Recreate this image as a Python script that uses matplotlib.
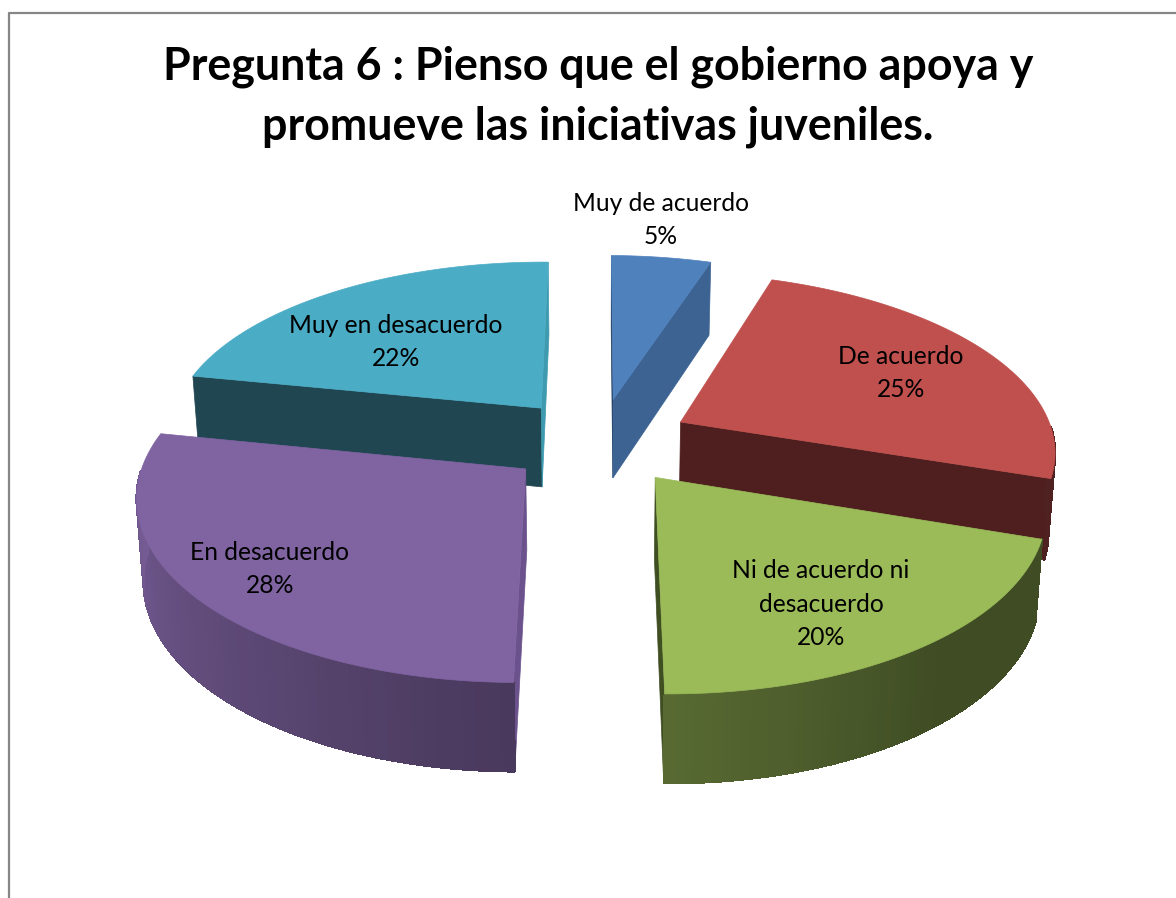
import numpy as np
import matplotlib
matplotlib.use("Agg")
import matplotlib.pyplot as plt
from matplotlib.collections import PolyCollection
from matplotlib.colors import to_rgb

plt.rcParams['font.family'] = ['Lato', 'DejaVu Sans']

title = "Pregunta 6 : Pienso que el gobierno apoya y\npromueve las iniciativas juveniles."
categories = ["Muy de acuerdo", "De acuerdo", "Ni de acuerdo ni\ndesacuerdo", "En desacuerdo", "Muy en desacuerdo"]
values = [5, 25, 20, 28, 22]

top_colors = ["#4f81bd", "#c0504d", "#9bbb59", "#8064a2", "#4bacc6"]
start_wall_colors = ["#1f3a5c", "#4e1f1e", "#3f4f22", "#6b528c", "#1f4651"]
end_wall_colors = ["#3c6392", "#4e1f1e", "#3f4f22", "#6b528c", "#3d9aaf"]
label_pos = [(661, 220), (901, 373), (821, 604), (270, 569), (396, 342)]
draw_order = [0, 4, 1, 3, 2]

# projection of the pie plane to pixels
cx, cy = 599, 441
rad_x, rad_y = 375, 175
persp = 0.14
roll = 0.005
explode = 0.248
depth = 80
base_shrink = 0.985


def project(u, v):
	s = 1 / (1 + persp * v)
	x = cx + rad_x * u * s
	return x, cy - rad_y * v * s + roll * (x - cx)


def project_base(u, v):
	x, y = project(u, v)
	s = 1 / (1 + persp * v)
	return cx + (x - cx) * base_shrink, y + depth * s**0.6


def wall_visible(poly):
	x, y = np.array(poly).T
	return np.sum(x * np.roll(y, -1) - np.roll(x, -1) * y) > 0


def shade(color, angle):
	f = np.interp(angle, [90, 140, 180, 270], [0.41, 0.41, 0.57, 0.92])
	return tuple(c * f for c in to_rgb(color))


fig = plt.figure(figsize=(11.76, 8.98), dpi=100)
ax = fig.add_axes([0, 0, 1, 1])
ax.set_xlim(0, 1176)
ax.set_ylim(898, 0)
ax.axis("off")

ax.plot([9, 9, 1176], [898, 13, 13], color="#868686", lw=1.6, solid_capstyle="butt")

edges = np.cumsum([0] + values) / sum(values) * 360

for i in draw_order:
	a0, a1 = edges[i], edges[i + 1]
	mid = np.radians((a0 + a1) / 2)
	ou, ov = explode * np.sin(mid), explode * np.cos(mid)
	angles = np.linspace(a0, a1, 60)
	u = ou + np.sin(np.radians(angles))
	v = ov + np.cos(np.radians(angles))

	apex = project(ou, ov)
	apex_b = project_base(ou, ov)
	start, end = project(u[0], v[0]), project(u[-1], v[-1])
	start_b, end_b = project_base(u[0], v[0]), project_base(u[-1], v[-1])

	wall0 = [start, apex, apex_b, start_b]
	wall1 = [apex, end, end_b, apex_b]
	if wall_visible(wall0):
		ax.fill(*zip(*wall0), color=start_wall_colors[i], lw=0.5, zorder=2 + draw_order.index(i))
	if wall_visible(wall1):
		ax.fill(*zip(*wall1), color=end_wall_colors[i], lw=0.5, zorder=2 + draw_order.index(i))

	# outer wall, only the part that faces the front
	front = np.where((angles >= 90) & (angles <= 270))[0]
	if len(front) > 1:
		polys, cols = [], []
		for j, k in zip(front[:-1], front[1:]):
			polys.append([project(u[j], v[j]), project(u[k], v[k]), project_base(u[k], v[k]), project_base(u[j], v[j])])
			cols.append(shade(top_colors[i], angles[j]))
		ax.add_collection(PolyCollection(polys, facecolors=cols, edgecolors=cols, linewidths=1, antialiaseds=False, zorder=2 + draw_order.index(i)))

	top = [apex] + [project(a, b) for a, b in zip(u, v)]
	ax.fill(*zip(*top), color=top_colors[i], lw=0.5, zorder=2.5 + draw_order.index(i))

ax.text(598, 97, title, ha="center", va="center", fontsize=32.2, fontweight="bold", color="black", linespacing=1.52, zorder=20)

for name, val, (x, y) in zip(categories, values, label_pos):
	ax.text(x, y, f"{name}\n{val}%", ha="center", va="center", fontsize=17.7, color="black", linespacing=1.53, zorder=20)

fig.savefig("out.png", dpi=100)
